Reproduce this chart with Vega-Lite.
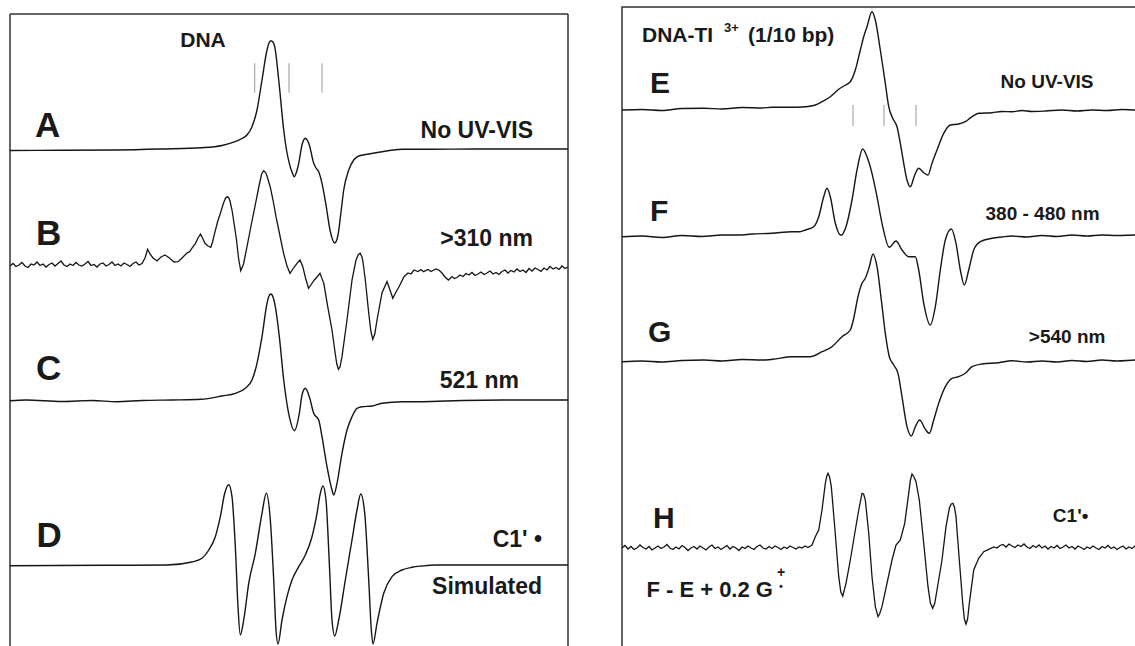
{
"$schema":"https://vega.github.io/schema/vega-lite/v6.json",
"background":"white",
"padding":{"left":7,"top":6,"right":0,"bottom":0},
"spacing":54,
"bounds":"flush",
"config":{"view":{"stroke":null},"axis":{"disable":true},"text":{"font":"Liberation Sans","fontWeight":"bold","color":"#1a1a1a","baseline":"alphabetic"}},
"datasets":{
"left":[
{"s":"A","f":0,"v":501.5},{"s":"A","f":13,"v":501.7},{"s":"A","f":26.75,"v":502},{"s":"A","f":38,"v":503},{"s":"A","f":48,"v":504.3},{"s":"A","f":53,"v":506.5},{"s":"A","f":56.25,"v":510.3},{"s":"A","f":58,"v":513.5},{"s":"A","f":59.25,"v":517},{"s":"A","f":60.5,"v":525.3},{"s":"A","f":61.75,"v":542},{"s":"A","f":63,"v":572},{"s":"A","f":64.25,"v":602},{"s":"A","f":64.75,"v":609},{"s":"A","f":65.25,"v":611.3},{"s":"A","f":65.75,"v":610},{"s":"A","f":66.18,"v":605.3},{"s":"A","f":67.18,"v":572},{"s":"A","f":68.43,"v":522},{"s":"A","f":69.13,"v":502},{"s":"A","f":69.83,"v":488.7},{"s":"A","f":70.5,"v":480},{"s":"A","f":71.08,"v":475.3},{"s":"A","f":71.63,"v":480},{"s":"A","f":72.18,"v":488.7},{"s":"A","f":73,"v":507},{"s":"A","f":73.83,"v":513.7},{"s":"A","f":74.83,"v":507},{"s":"A","f":75.93,"v":488.7},{"s":"A","f":76.5,"v":484},{"s":"A","f":77.18,"v":480.3},{"s":"A","f":78,"v":468.7},{"s":"A","f":79,"v":447},{"s":"A","f":80,"v":422},{"s":"A","f":81.18,"v":409},{"s":"A","f":82,"v":417},{"s":"A","f":82.75,"v":440},{"s":"A","f":83.43,"v":462},{"s":"A","f":84.68,"v":482},{"s":"A","f":85.93,"v":492},{"s":"A","f":87.18,"v":496},{"s":"A","f":89.68,"v":498},{"s":"A","f":93,"v":500.3},{"s":"A","f":98,"v":502.7},{"s":"A","f":103.25,"v":502.7},{"s":"A","f":118,"v":503},{"s":"A","f":139.5,"v":503},
{"s":"B","f":0,"v":386},{"s":"B","f":0.75,"v":388.5},{"s":"B","f":1.5,"v":385.5},{"s":"B","f":2.25,"v":387},{"s":"B","f":3,"v":389.5},{"s":"B","f":3.75,"v":386},{"s":"B","f":4.5,"v":384.5},{"s":"B","f":5.25,"v":388},{"s":"B","f":6,"v":387},{"s":"B","f":6.75,"v":390},{"s":"B","f":7.5,"v":386.5},{"s":"B","f":8.25,"v":388},{"s":"B","f":9,"v":385},{"s":"B","f":9.75,"v":387.5},{"s":"B","f":10.5,"v":389},{"s":"B","f":11.25,"v":386},{"s":"B","f":12,"v":388.5},{"s":"B","f":12.75,"v":391},{"s":"B","f":13.5,"v":387},{"s":"B","f":14.25,"v":385.5},{"s":"B","f":15,"v":388},{"s":"B","f":15.75,"v":386.5},{"s":"B","f":16.5,"v":389.5},{"s":"B","f":17.25,"v":387},{"s":"B","f":18,"v":386},{"s":"B","f":18.75,"v":388},{"s":"B","f":19.5,"v":390.5},{"s":"B","f":20.25,"v":386.5},{"s":"B","f":21,"v":387.5},{"s":"B","f":21.75,"v":385},{"s":"B","f":22.5,"v":388},{"s":"B","f":23.25,"v":389},{"s":"B","f":24,"v":386},{"s":"B","f":24.75,"v":387.5},{"s":"B","f":25.5,"v":390},{"s":"B","f":26.25,"v":386.5},{"s":"B","f":27,"v":388},{"s":"B","f":27.75,"v":386},{"s":"B","f":28.5,"v":389},{"s":"B","f":29.25,"v":387.5},{"s":"B","f":30,"v":385.5},{"s":"B","f":30.75,"v":388.5},{"s":"B","f":31.5,"v":390},{"s":"B","f":32.25,"v":387},{"s":"B","f":33,"v":388.5},{"s":"B","f":33.75,"v":394},{"s":"B","f":34.4,"v":402.7},{"s":"B","f":35,"v":398},{"s":"B","f":35.75,"v":394},{"s":"B","f":36.75,"v":391},{"s":"B","f":37.75,"v":395},{"s":"B","f":38.75,"v":397},{"s":"B","f":39.5,"v":395},{"s":"B","f":40.15,"v":393},{"s":"B","f":41,"v":390},{"s":"B","f":42,"v":390.3},{"s":"B","f":42.75,"v":393},{"s":"B","f":43.5,"v":396},{"s":"B","f":44.25,"v":399},{"s":"B","f":44.93,"v":400.3},{"s":"B","f":45.5,"v":404},{"s":"B","f":46.38,"v":408.7},{"s":"B","f":47,"v":414},{"s":"B","f":47.63,"v":418},{"s":"B","f":48.25,"v":413},{"s":"B","f":48.75,"v":408.7},{"s":"B","f":49.5,"v":406},{"s":"B","f":50.2,"v":404.7},{"s":"B","f":50.63,"v":410},{"s":"B","f":51.15,"v":418.7},{"s":"B","f":51.88,"v":430},{"s":"B","f":52.6,"v":438.7},{"s":"B","f":53.38,"v":449},{"s":"B","f":53.9,"v":454},{"s":"B","f":54.33,"v":455.3},{"s":"B","f":54.7,"v":454},{"s":"B","f":55,"v":451},{"s":"B","f":55.5,"v":442},{"s":"B","f":56.08,"v":427},{"s":"B","f":56.63,"v":412},{"s":"B","f":57.13,"v":394},{"s":"B","f":57.68,"v":381.3},{"s":"B","f":58.38,"v":388},{"s":"B","f":59.25,"v":405.3},{"s":"B","f":60.25,"v":426},{"s":"B","f":61.23,"v":445.3},{"s":"B","f":62.25,"v":466},{"s":"B","f":62.9,"v":478},{"s":"B","f":63.43,"v":481.3},{"s":"B","f":63.9,"v":479.5},{"s":"B","f":64.25,"v":476},{"s":"B","f":65.05,"v":465.3},{"s":"B","f":65.75,"v":452},{"s":"B","f":66.5,"v":435.3},{"s":"B","f":67.5,"v":416},{"s":"B","f":68.4,"v":398.7},{"s":"B","f":69.25,"v":386},{"s":"B","f":70,"v":378.7},{"s":"B","f":70.88,"v":384},{"s":"B","f":71.75,"v":388.7},{"s":"B","f":72.5,"v":392},{"s":"B","f":73.2,"v":385.3},{"s":"B","f":73.88,"v":374},{"s":"B","f":74.63,"v":363.7},{"s":"B","f":75.38,"v":368},{"s":"B","f":76.08,"v":372},{"s":"B","f":76.75,"v":375},{"s":"B","f":77.5,"v":378.7},{"s":"B","f":78.45,"v":368.7},{"s":"B","f":79.43,"v":345.3},{"s":"B","f":80.5,"v":322},{"s":"B","f":81.25,"v":300},{"s":"B","f":81.7,"v":288},{"s":"B","f":82.1,"v":282.7},{"s":"B","f":82.5,"v":285},{"s":"B","f":83,"v":295.3},{"s":"B","f":84.25,"v":332},{"s":"B","f":85.5,"v":372},{"s":"B","f":86.5,"v":392},{"s":"B","f":87.1,"v":397.5},{"s":"B","f":87.55,"v":398.7},{"s":"B","f":88,"v":395},{"s":"B","f":88.25,"v":390},{"s":"B","f":88.83,"v":372},{"s":"B","f":89.68,"v":339},{"s":"B","f":90.2,"v":321},{"s":"B","f":90.7,"v":312.7},{"s":"B","f":91.2,"v":318},{"s":"B","f":91.75,"v":332},{"s":"B","f":93,"v":359},{"s":"B","f":94.25,"v":370.5},{"s":"B","f":95,"v":362},{"s":"B","f":95.7,"v":353.7},{"s":"B","f":96.5,"v":360},{"s":"B","f":97.25,"v":365.3},{"s":"B","f":98.5,"v":375.3},{"s":"B","f":99.5,"v":379},{"s":"B","f":100.25,"v":378},{"s":"B","f":100.98,"v":382},{"s":"B","f":102,"v":380.5},{"s":"B","f":102.75,"v":382.5},{"s":"B","f":103.38,"v":380.3},{"s":"B","f":104.5,"v":382.5},{"s":"B","f":105.25,"v":380.5},{"s":"B","f":105.75,"v":381.5},{"s":"B","f":106.5,"v":383},{"s":"B","f":107.2,"v":382},{"s":"B","f":108,"v":379},{"s":"B","f":108.75,"v":375},{"s":"B","f":109.6,"v":372},{"s":"B","f":110.5,"v":375.5},{"s":"B","f":111.1,"v":373.5},{"s":"B","f":111.75,"v":374.5},{"s":"B","f":112.5,"v":377},{"s":"B","f":113.25,"v":375.5},{"s":"B","f":114,"v":378.5},{"s":"B","f":114.75,"v":377},{"s":"B","f":115.5,"v":379.5},{"s":"B","f":116.25,"v":376.5},{"s":"B","f":117,"v":378},{"s":"B","f":117.75,"v":380},{"s":"B","f":118.5,"v":377.5},{"s":"B","f":119.25,"v":379},{"s":"B","f":120,"v":381},{"s":"B","f":120.75,"v":378},{"s":"B","f":121.5,"v":379.5},{"s":"B","f":122.25,"v":377.5},{"s":"B","f":123,"v":380.5},{"s":"B","f":123.75,"v":382},{"s":"B","f":124.5,"v":379},{"s":"B","f":125.25,"v":381.5},{"s":"B","f":126,"v":380},{"s":"B","f":126.75,"v":383},{"s":"B","f":127.5,"v":380.5},{"s":"B","f":128.25,"v":382},{"s":"B","f":129,"v":379.5},{"s":"B","f":129.75,"v":383.5},{"s":"B","f":130.5,"v":381},{"s":"B","f":131.25,"v":384},{"s":"B","f":132,"v":382.5},{"s":"B","f":132.75,"v":380.5},{"s":"B","f":133.5,"v":384},{"s":"B","f":134.25,"v":382},{"s":"B","f":135,"v":385.5},{"s":"B","f":135.75,"v":383},{"s":"B","f":136.5,"v":384.5},{"s":"B","f":137.25,"v":382.5},{"s":"B","f":138,"v":386},{"s":"B","f":138.75,"v":383.5},{"s":"B","f":139.5,"v":385},
{"s":"C","f":0,"v":251.3},{"s":"C","f":4,"v":252},{"s":"C","f":13,"v":250.5},{"s":"C","f":20.5,"v":251.5},{"s":"C","f":26.75,"v":250.3},{"s":"C","f":33,"v":251.5},{"s":"C","f":40.5,"v":252},{"s":"C","f":47.75,"v":252.7},{"s":"C","f":53,"v":256},{"s":"C","f":56.33,"v":258.7},{"s":"C","f":58.83,"v":263.7},{"s":"C","f":60.5,"v":272},{"s":"C","f":61.75,"v":288.7},{"s":"C","f":63,"v":315.3},{"s":"C","f":64.25,"v":348.7},{"s":"C","f":64.75,"v":356},{"s":"C","f":65.25,"v":358},{"s":"C","f":65.75,"v":355},{"s":"C","f":66.33,"v":345.3},{"s":"C","f":67.33,"v":315.3},{"s":"C","f":68.43,"v":272},{"s":"C","f":69.83,"v":235.3},{"s":"C","f":71.08,"v":221.3},{"s":"C","f":72.33,"v":238.7},{"s":"C","f":73,"v":257},{"s":"C","f":73.83,"v":263.7},{"s":"C","f":74.83,"v":255.3},{"s":"C","f":75.93,"v":238.7},{"s":"C","f":77.18,"v":232},{"s":"C","f":78,"v":215.3},{"s":"C","f":79.25,"v":185.3},{"s":"C","f":80.5,"v":162},{"s":"C","f":80.93,"v":157},{"s":"C","f":81.75,"v":168.7},{"s":"C","f":83,"v":198.7},{"s":"C","f":84.25,"v":222},{"s":"C","f":85.5,"v":235.3},{"s":"C","f":86.75,"v":243.7},{"s":"C","f":88,"v":245.3},{"s":"C","f":90.5,"v":246},{"s":"C","f":93,"v":248.7},{"s":"C","f":98,"v":250.3},{"s":"C","f":103,"v":250.3},{"s":"C","f":113,"v":251.5},{"s":"C","f":123,"v":252},{"s":"C","f":139.5,"v":252},
{"s":"D","f":0,"v":86.3},{"s":"D","f":23,"v":86.7},{"s":"D","f":39.25,"v":87},{"s":"D","f":45.5,"v":90},{"s":"D","f":48,"v":93.7},{"s":"D","f":49.68,"v":102},{"s":"D","f":51.33,"v":115.3},{"s":"D","f":52.58,"v":135.3},{"s":"D","f":53.68,"v":158.7},{"s":"D","f":54.68,"v":167.3},{"s":"D","f":55.5,"v":155.3},{"s":"D","f":56.33,"v":105.3},{"s":"D","f":57,"v":45.3},{"s":"D","f":57.58,"v":17},{"s":"D","f":58.43,"v":32},{"s":"D","f":59.68,"v":68.7},{"s":"D","f":61.33,"v":98.7},{"s":"D","f":63,"v":138.7},{"s":"D","f":64.08,"v":158.7},{"s":"D","f":65.08,"v":132},{"s":"D","f":65.93,"v":72},{"s":"D","f":66.5,"v":22},{"s":"D","f":67,"v":8},{"s":"D","f":68,"v":32},{"s":"D","f":69.25,"v":55.3},{"s":"D","f":70.5,"v":72},{"s":"D","f":72.18,"v":85.3},{"s":"D","f":73.83,"v":97},{"s":"D","f":75.5,"v":115.3},{"s":"D","f":76.75,"v":138.7},{"s":"D","f":77.58,"v":158.7},{"s":"D","f":78.25,"v":166},{"s":"D","f":79,"v":152},{"s":"D","f":79.83,"v":88.7},{"s":"D","f":80.5,"v":32},{"s":"D","f":81.18,"v":16},{"s":"D","f":82.18,"v":32},{"s":"D","f":83.83,"v":72},{"s":"D","f":85.5,"v":112},{"s":"D","f":86.75,"v":142},{"s":"D","f":87.68,"v":158},{"s":"D","f":88.68,"v":138.7},{"s":"D","f":89.68,"v":72},{"s":"D","f":90.33,"v":22},{"s":"D","f":90.75,"v":8},{"s":"D","f":91.75,"v":28.7},{"s":"D","f":93.43,"v":58.7},{"s":"D","f":95.5,"v":75.3},{"s":"D","f":98,"v":82},{"s":"D","f":100.5,"v":84.7},{"s":"D","f":103,"v":86},{"s":"D","f":106.25,"v":87},{"s":"D","f":123,"v":87},{"s":"D","f":139.5,"v":87}
],
"right":[
{"s":"E","f":0,"v":542},{"s":"E","f":5,"v":542.5},{"s":"E","f":10,"v":541.5},{"s":"E","f":15,"v":543.5},{"s":"E","f":20.5,"v":543.7},{"s":"E","f":25,"v":543},{"s":"E","f":30,"v":544.5},{"s":"E","f":35,"v":544},{"s":"E","f":37.5,"v":544.7},{"s":"E","f":42.5,"v":544.7},{"s":"E","f":45,"v":545},{"s":"E","f":48.33,"v":547},{"s":"E","f":50,"v":550.3},{"s":"E","f":52.08,"v":555.3},{"s":"E","f":54.18,"v":562.7},{"s":"E","f":55.43,"v":566},{"s":"E","f":57.08,"v":570.3},{"s":"E","f":58.33,"v":582},{"s":"E","f":59.58,"v":602},{"s":"E","f":60.43,"v":615.3},{"s":"E","f":61.25,"v":625.3},{"s":"E","f":62.5,"v":640.3},{"s":"E","f":63.33,"v":632},{"s":"E","f":64.58,"v":602},{"s":"E","f":65.83,"v":568.7},{"s":"E","f":66.68,"v":545.3},{"s":"E","f":67.68,"v":533.7},{"s":"E","f":68.75,"v":525.3},{"s":"E","f":69.58,"v":508.7},{"s":"E","f":70.43,"v":488.7},{"s":"E","f":71.25,"v":472},{"s":"E","f":72.08,"v":465.3},{"s":"E","f":73.18,"v":477},{"s":"E","f":74.18,"v":483.7},{"s":"E","f":75.43,"v":479.3},{"s":"E","f":76.5,"v":477},{"s":"E","f":77.5,"v":488.7},{"s":"E","f":78.75,"v":502},{"s":"E","f":80.43,"v":518.7},{"s":"E","f":82.08,"v":527},{"s":"E","f":84.18,"v":528},{"s":"E","f":85.83,"v":530.3},{"s":"E","f":87.5,"v":535.3},{"s":"E","f":89.18,"v":538.7},{"s":"E","f":92.5,"v":539.3},{"s":"E","f":95,"v":540.5},{"s":"E","f":97.5,"v":540.3},{"s":"E","f":100,"v":541.5},{"s":"E","f":102.5,"v":540.5},{"s":"E","f":105.93,"v":541},{"s":"E","f":110,"v":542},{"s":"E","f":113.75,"v":541},{"s":"E","f":117.5,"v":542},{"s":"E","f":121.25,"v":541.5},{"s":"E","f":125,"v":542.5},{"s":"E","f":128.75,"v":542},{"s":"E","f":132.5,"v":542},
{"s":"F","f":0,"v":415.3},{"s":"F","f":5,"v":416},{"s":"F","f":10,"v":414.5},{"s":"F","f":15,"v":416.5},{"s":"F","f":20,"v":415.5},{"s":"F","f":25,"v":417},{"s":"F","f":29.13,"v":417},{"s":"F","f":32.5,"v":418},{"s":"F","f":37.5,"v":418.7},{"s":"F","f":42.5,"v":420.3},{"s":"F","f":44.5,"v":420.3},{"s":"F","f":45.83,"v":422},{"s":"F","f":47.93,"v":425.3},{"s":"F","f":49.18,"v":435.3},{"s":"F","f":50.43,"v":455.3},{"s":"F","f":51.25,"v":463.7},{"s":"F","f":52.08,"v":455.3},{"s":"F","f":53.33,"v":428.7},{"s":"F","f":54.75,"v":416.7},{"s":"F","f":56,"v":425.3},{"s":"F","f":57.5,"v":452},{"s":"F","f":58.75,"v":482},{"s":"F","f":60.18,"v":503},{"s":"F","f":61.25,"v":495.3},{"s":"F","f":62.5,"v":478.7},{"s":"F","f":63.75,"v":455.3},{"s":"F","f":65,"v":428.7},{"s":"F","f":66.83,"v":404.7},{"s":"F","f":68.5,"v":411},{"s":"F","f":70,"v":402},{"s":"F","f":71.68,"v":395.3},{"s":"F","f":73.33,"v":395.3},{"s":"F","f":74.18,"v":382},{"s":"F","f":75.43,"v":348.7},{"s":"F","f":77.08,"v":327},{"s":"F","f":78.33,"v":345.3},{"s":"F","f":79.58,"v":382},{"s":"F","f":80.83,"v":412},{"s":"F","f":82.33,"v":423},{"s":"F","f":83.5,"v":408.7},{"s":"F","f":84.58,"v":382},{"s":"F","f":85.58,"v":367},{"s":"F","f":86.68,"v":382},{"s":"F","f":87.93,"v":402},{"s":"F","f":89.58,"v":410.3},{"s":"F","f":92.5,"v":413.7},{"s":"F","f":95,"v":415},{"s":"F","f":97.5,"v":416},{"s":"F","f":101.25,"v":415},{"s":"F","f":105,"v":416.5},{"s":"F","f":108.75,"v":415.5},{"s":"F","f":112.5,"v":417},{"s":"F","f":116.25,"v":416},{"s":"F","f":120,"v":417},{"s":"F","f":123.75,"v":416.5},{"s":"F","f":128.75,"v":417},{"s":"F","f":132.5,"v":417},
{"s":"G","f":0,"v":290.3},{"s":"G","f":5,"v":291},{"s":"G","f":10,"v":290},{"s":"G","f":15,"v":291.5},{"s":"G","f":20.5,"v":292},{"s":"G","f":25,"v":291},{"s":"G","f":30,"v":292.5},{"s":"G","f":35,"v":292},{"s":"G","f":37.65,"v":292.7},{"s":"G","f":42.5,"v":295.3},{"s":"G","f":47,"v":295.3},{"s":"G","f":50,"v":300.3},{"s":"G","f":52.5,"v":305.3},{"s":"G","f":55,"v":315.3},{"s":"G","f":57.08,"v":322},{"s":"G","f":57.93,"v":333.7},{"s":"G","f":59,"v":355.3},{"s":"G","f":60,"v":368.7},{"s":"G","f":60.83,"v":373.7},{"s":"G","f":61.83,"v":385.3},{"s":"G","f":62.75,"v":398},{"s":"G","f":63.75,"v":385.3},{"s":"G","f":64.83,"v":352},{"s":"G","f":65.83,"v":318.7},{"s":"G","f":66.83,"v":295.3},{"s":"G","f":67.93,"v":287},{"s":"G","f":69,"v":278.7},{"s":"G","f":70,"v":255.3},{"s":"G","f":71.25,"v":225.3},{"s":"G","f":72.33,"v":216},{"s":"G","f":73.33,"v":225.3},{"s":"G","f":74.43,"v":232},{"s":"G","f":75.68,"v":223.7},{"s":"G","f":76.83,"v":218.7},{"s":"G","f":77.93,"v":232},{"s":"G","f":79.18,"v":248.7},{"s":"G","f":80.83,"v":265.3},{"s":"G","f":82.5,"v":273.7},{"s":"G","f":84.18,"v":275.3},{"s":"G","f":85.83,"v":278.7},{"s":"G","f":87.5,"v":285.3},{"s":"G","f":90,"v":288},{"s":"G","f":94.18,"v":289.3},{"s":"G","f":97.5,"v":291.3},{"s":"G","f":101.25,"v":290},{"s":"G","f":105,"v":291},{"s":"G","f":108.75,"v":290},{"s":"G","f":112.5,"v":291.5},{"s":"G","f":116.25,"v":290.5},{"s":"G","f":120,"v":292},{"s":"G","f":123.75,"v":291},{"s":"G","f":128.75,"v":292},{"s":"G","f":132.5,"v":292},
{"s":"H","f":0,"v":104},{"s":"H","f":0.75,"v":106.5},{"s":"H","f":1.5,"v":103},{"s":"H","f":2.25,"v":105.5},{"s":"H","f":3,"v":102.5},{"s":"H","f":3.75,"v":104},{"s":"H","f":4.5,"v":107},{"s":"H","f":5.25,"v":104.5},{"s":"H","f":6,"v":103},{"s":"H","f":6.75,"v":105.5},{"s":"H","f":7.5,"v":102},{"s":"H","f":8.25,"v":104},{"s":"H","f":9,"v":106},{"s":"H","f":9.75,"v":103.5},{"s":"H","f":10.5,"v":105},{"s":"H","f":11.25,"v":107.5},{"s":"H","f":12,"v":104},{"s":"H","f":12.75,"v":102.5},{"s":"H","f":13.5,"v":105},{"s":"H","f":14.25,"v":103},{"s":"H","f":15,"v":106.5},{"s":"H","f":15.75,"v":104.5},{"s":"H","f":16.5,"v":101.5},{"s":"H","f":17.25,"v":104},{"s":"H","f":18,"v":105.5},{"s":"H","f":18.75,"v":103},{"s":"H","f":19.5,"v":106},{"s":"H","f":20.25,"v":104},{"s":"H","f":21,"v":102},{"s":"H","f":21.75,"v":105},{"s":"H","f":22.5,"v":107},{"s":"H","f":23.25,"v":103.5},{"s":"H","f":24,"v":105},{"s":"H","f":24.75,"v":102.5},{"s":"H","f":25.5,"v":104.5},{"s":"H","f":26.25,"v":106.5},{"s":"H","f":27,"v":103},{"s":"H","f":27.75,"v":105.5},{"s":"H","f":28.5,"v":104},{"s":"H","f":29.25,"v":101.5},{"s":"H","f":30,"v":105},{"s":"H","f":30.75,"v":103.5},{"s":"H","f":31.5,"v":106},{"s":"H","f":32.25,"v":104},{"s":"H","f":33,"v":102.5},{"s":"H","f":33.75,"v":105.5},{"s":"H","f":34.5,"v":107},{"s":"H","f":35.25,"v":104},{"s":"H","f":36,"v":103},{"s":"H","f":36.75,"v":105.5},{"s":"H","f":37.5,"v":103.5},{"s":"H","f":38.25,"v":106},{"s":"H","f":39,"v":104.5},{"s":"H","f":39.75,"v":102.5},{"s":"H","f":40.5,"v":105},{"s":"H","f":41.25,"v":103.5},{"s":"H","f":42,"v":106},{"s":"H","f":42.75,"v":104.5},{"s":"H","f":43.5,"v":103},{"s":"H","f":44.25,"v":105},{"s":"H","f":45,"v":104},{"s":"H","f":45.75,"v":106},{"s":"H","f":46.5,"v":104.5},{"s":"H","f":47.5,"v":107},{"s":"H","f":48.33,"v":115.3},{"s":"H","f":49.18,"v":122},{"s":"H","f":50,"v":142},{"s":"H","f":50.83,"v":168.7},{"s":"H","f":51.2,"v":176},{"s":"H","f":51.5,"v":178.7},{"s":"H","f":51.9,"v":175},{"s":"H","f":52.33,"v":165.3},{"s":"H","f":53.18,"v":125.3},{"s":"H","f":54.18,"v":75.3},{"s":"H","f":54.7,"v":60},{"s":"H","f":55.18,"v":56},{"s":"H","f":56,"v":68.7},{"s":"H","f":57.08,"v":92},{"s":"H","f":58.33,"v":122},{"s":"H","f":59.18,"v":142},{"s":"H","f":60,"v":158.7},{"s":"H","f":60.4,"v":158},{"s":"H","f":60.83,"v":152},{"s":"H","f":61.68,"v":118.7},{"s":"H","f":62.5,"v":75.3},{"s":"H","f":63.33,"v":45.3},{"s":"H","f":64,"v":35.3},{"s":"H","f":64.4,"v":38},{"s":"H","f":65,"v":45.3},{"s":"H","f":66.25,"v":68.7},{"s":"H","f":67.5,"v":92},{"s":"H","f":68.5,"v":107},{"s":"H","f":69.58,"v":112},{"s":"H","f":70.68,"v":128.7},{"s":"H","f":71.68,"v":158.7},{"s":"H","f":72.1,"v":172},{"s":"H","f":72.5,"v":178},{"s":"H","f":73,"v":175},{"s":"H","f":73.5,"v":170.3},{"s":"H","f":74.33,"v":152},{"s":"H","f":75.43,"v":108.7},{"s":"H","f":76.5,"v":65.3},{"s":"H","f":77.1,"v":49},{"s":"H","f":77.68,"v":43.7},{"s":"H","f":78.2,"v":49},{"s":"H","f":78.75,"v":62},{"s":"H","f":80,"v":92},{"s":"H","f":81,"v":125.3},{"s":"H","f":81.83,"v":143.7},{"s":"H","f":82.3,"v":148},{"s":"H","f":82.75,"v":148.7},{"s":"H","f":83.1,"v":145},{"s":"H","f":83.5,"v":135.3},{"s":"H","f":84.33,"v":92},{"s":"H","f":85.18,"v":48.7},{"s":"H","f":85.6,"v":33},{"s":"H","f":86,"v":28},{"s":"H","f":86.4,"v":33},{"s":"H","f":86.83,"v":48.7},{"s":"H","f":87.93,"v":82},{"s":"H","f":89.18,"v":93.7},{"s":"H","f":90.43,"v":100.3},{"s":"H","f":91.68,"v":102.7},{"s":"H","f":93,"v":105},{"s":"H","f":93.75,"v":104},{"s":"H","f":94.5,"v":106.5},{"s":"H","f":95.25,"v":107.5},{"s":"H","f":96,"v":105},{"s":"H","f":96.75,"v":108},{"s":"H","f":97.5,"v":106},{"s":"H","f":98.25,"v":104.5},{"s":"H","f":99,"v":107},{"s":"H","f":99.75,"v":105.5},{"s":"H","f":100.5,"v":108},{"s":"H","f":101.25,"v":105},{"s":"H","f":102,"v":103.5},{"s":"H","f":102.75,"v":106.5},{"s":"H","f":103.5,"v":104.5},{"s":"H","f":104.25,"v":107},{"s":"H","f":105,"v":104},{"s":"H","f":105.75,"v":106},{"s":"H","f":106.5,"v":103},{"s":"H","f":107.25,"v":105.5},{"s":"H","f":108,"v":104},{"s":"H","f":108.75,"v":106.5},{"s":"H","f":109.5,"v":103.5},{"s":"H","f":110.25,"v":105},{"s":"H","f":111,"v":107},{"s":"H","f":111.75,"v":104},{"s":"H","f":112.5,"v":105.5},{"s":"H","f":113.25,"v":103},{"s":"H","f":114,"v":106},{"s":"H","f":114.75,"v":104.5},{"s":"H","f":115.5,"v":102.5},{"s":"H","f":116.25,"v":105},{"s":"H","f":117,"v":103.5},{"s":"H","f":117.75,"v":106},{"s":"H","f":118.5,"v":104},{"s":"H","f":119.25,"v":102.5},{"s":"H","f":120,"v":105.5},{"s":"H","f":120.75,"v":104},{"s":"H","f":121.5,"v":106.5},{"s":"H","f":122.25,"v":103.5},{"s":"H","f":123,"v":105},{"s":"H","f":123.75,"v":102.5},{"s":"H","f":124.5,"v":104.5},{"s":"H","f":125.25,"v":106},{"s":"H","f":126,"v":103},{"s":"H","f":126.75,"v":105},{"s":"H","f":127.5,"v":103.5},{"s":"H","f":128.25,"v":106},{"s":"H","f":129,"v":104},{"s":"H","f":129.75,"v":102.5},{"s":"H","f":130.5,"v":105},{"s":"H","f":131.25,"v":103.5},{"s":"H","f":132,"v":105.5},{"s":"H","f":132.5,"v":104}
]
},
"hconcat":[
{
"width":558,"height":645,
"view":{"stroke":null},
"layer":[
{"data":{"values":[{}]},"mark":{"type":"rule","color":"#333","strokeWidth":1.5},"encoding":{"x":{"datum":0},"x2":{"datum":139.5},"y":{"datum":638}}},
{"data":{"values":[{}]},"mark":{"type":"rule","color":"#333","strokeWidth":1.5},"encoding":{"x":{"datum":0},"y":{"datum":0},"y2":{"datum":638}}},
{"data":{"values":[{}]},"mark":{"type":"rule","color":"#333","strokeWidth":1.5},"encoding":{"x":{"datum":139.5},"y":{"datum":0},"y2":{"datum":638}}},
{"data":{"values":[{"f":61.18,"lo":559.3,"hi":588.7},{"f":69.75,"lo":559.3,"hi":588.7},{"f":78,"lo":559.3,"hi":588.7}]},"mark":{"type":"rule","color":"#999","strokeWidth":1},"encoding":{"x":{"field":"f","type":"quantitative"},"y":{"field":"lo","type":"quantitative"},"y2":{"field":"hi"}}},
{"data":{"name":"left"},"transform":[{"filter":"datum.s !== 'B'"}],"mark":{"type":"line","color":"#151515","strokeWidth":1.4,"interpolate":"monotone"},"encoding":{"x":{"field":"f","type":"quantitative","scale":{"domain":[0,139.5],"nice":false,"zero":false},"axis":null},"y":{"field":"v","type":"quantitative","scale":{"domain":[0,645],"nice":false,"zero":false},"axis":null},"detail":{"field":"s"}}},
{"data":{"name":"left"},"transform":[{"filter":"datum.s === 'B'"}],"mark":{"type":"line","color":"#151515","strokeWidth":1.3,"interpolate":"linear"},"encoding":{"x":{"field":"f","type":"quantitative"},"y":{"field":"v","type":"quantitative"},"detail":{"field":"s"}}},
{"data":{"values":[{}]},"mark":{"type":"text","text":"DNA","align":"center","fontSize":21},"encoding":{"x":{"datum":48.25},"y":{"datum":605}}},
{"data":{"values":[{}]},"mark":{"type":"text","text":"A","align":"left","fontSize":35},"encoding":{"x":{"datum":6.25},"y":{"datum":515.3}}},
{"data":{"values":[{}]},"mark":{"type":"text","text":"No UV-VIS","align":"right","fontSize":23},"encoding":{"x":{"datum":130.75},"y":{"datum":513.7}}},
{"data":{"values":[{}]},"mark":{"type":"text","text":"B","align":"left","fontSize":35},"encoding":{"x":{"datum":6.5},"y":{"datum":407}}},
{"data":{"values":[{}]},"mark":{"type":"text","text":">310 nm","align":"right","fontSize":23},"encoding":{"x":{"datum":130.75},"y":{"datum":406}}},
{"data":{"values":[{}]},"mark":{"type":"text","text":"C","align":"left","fontSize":35},"encoding":{"x":{"datum":6.5},"y":{"datum":272}}},
{"data":{"values":[{}]},"mark":{"type":"text","text":"521 nm","align":"right","fontSize":23},"encoding":{"x":{"datum":127.25},"y":{"datum":263.7}}},
{"data":{"values":[{}]},"mark":{"type":"text","text":"D","align":"left","fontSize":35},"encoding":{"x":{"datum":6.63},"y":{"datum":105.3}}},
{"data":{"values":[{}]},"mark":{"type":"text","text":"C1' •","align":"right","fontSize":23},"encoding":{"x":{"datum":133},"y":{"datum":105.3}}},
{"data":{"values":[{}]},"mark":{"type":"text","text":"Simulated","align":"right","fontSize":23},"encoding":{"x":{"datum":133},"y":{"datum":58}}}
]
},
{
"width":530,"height":645,
"view":{"stroke":"#333","strokeWidth":1.5},
"layer":[
{"data":{"values":[{"f":57.75,"lo":526,"hi":547},{"f":65.5,"lo":526,"hi":547},{"f":73.5,"lo":526,"hi":547}]},"mark":{"type":"rule","color":"#999","strokeWidth":1},"encoding":{"x":{"field":"f","type":"quantitative"},"y":{"field":"lo","type":"quantitative"},"y2":{"field":"hi"}}},
{"data":{"name":"right"},"transform":[{"filter":"datum.s !== 'H'"}],"mark":{"type":"line","color":"#151515","strokeWidth":1.4,"interpolate":"monotone"},"encoding":{"x":{"field":"f","type":"quantitative","scale":{"domain":[0,132.5],"nice":false,"zero":false},"axis":null},"y":{"field":"v","type":"quantitative","scale":{"domain":[0,645],"nice":false,"zero":false},"axis":null},"detail":{"field":"s"}}},
{"data":{"name":"right"},"transform":[{"filter":"datum.s === 'H'"}],"mark":{"type":"line","color":"#151515","strokeWidth":1.3,"interpolate":"linear"},"encoding":{"x":{"field":"f","type":"quantitative"},"y":{"field":"v","type":"quantitative"},"detail":{"field":"s"}}},
{"data":{"values":[{}]},"mark":{"type":"text","text":"DNA-TI","align":"left","fontSize":21},"encoding":{"x":{"datum":5},"y":{"datum":610.5}}},
{"data":{"values":[{}]},"mark":{"type":"text","text":"3+","align":"left","fontSize":13},"encoding":{"x":{"datum":25.5},"y":{"datum":620.5}}},
{"data":{"values":[{}]},"mark":{"type":"text","text":"(1/10 bp)","align":"left","fontSize":21},"encoding":{"x":{"datum":31.5},"y":{"datum":610.5}}},
{"data":{"values":[{}]},"mark":{"type":"text","text":"E","align":"left","fontSize":30},"encoding":{"x":{"datum":7},"y":{"datum":559}}},
{"data":{"values":[{}]},"mark":{"type":"text","text":"F","align":"left","fontSize":30},"encoding":{"x":{"datum":7},"y":{"datum":431.3}}},
{"data":{"values":[{}]},"mark":{"type":"text","text":"G","align":"left","fontSize":30},"encoding":{"x":{"datum":6.5},"y":{"datum":310}}},
{"data":{"values":[{}]},"mark":{"type":"text","text":"H","align":"left","fontSize":30},"encoding":{"x":{"datum":7.75},"y":{"datum":123.7}}},
{"data":{"values":[{}]},"mark":{"type":"text","text":"No UV-VIS","align":"right","fontSize":19},"encoding":{"x":{"datum":117.88},"y":{"datum":563.7}}},
{"data":{"values":[{}]},"mark":{"type":"text","text":"380 - 480 nm","align":"right","fontSize":19},"encoding":{"x":{"datum":119.4},"y":{"datum":432}}},
{"data":{"values":[{}]},"mark":{"type":"text","text":">540 nm","align":"right","fontSize":19},"encoding":{"x":{"datum":120.85},"y":{"datum":309.3}}},
{"data":{"values":[{}]},"mark":{"type":"text","text":"C1'•","align":"right","fontSize":19},"encoding":{"x":{"datum":116.58},"y":{"datum":130.3}}},
{"data":{"values":[{}]},"mark":{"type":"text","text":"F - E + 0.2 G","align":"left","fontSize":22},"encoding":{"x":{"datum":6.1},"y":{"datum":55.3}}},
{"data":{"values":[{}]},"mark":{"type":"text","text":"+","align":"center","fontSize":14},"encoding":{"x":{"datum":39.75},"y":{"datum":75}}},
{"data":{"values":[{}]},"mark":{"type":"text","text":"•","align":"center","fontSize":10},"encoding":{"x":{"datum":39.75},"y":{"datum":62}}}
]
}
]
}
